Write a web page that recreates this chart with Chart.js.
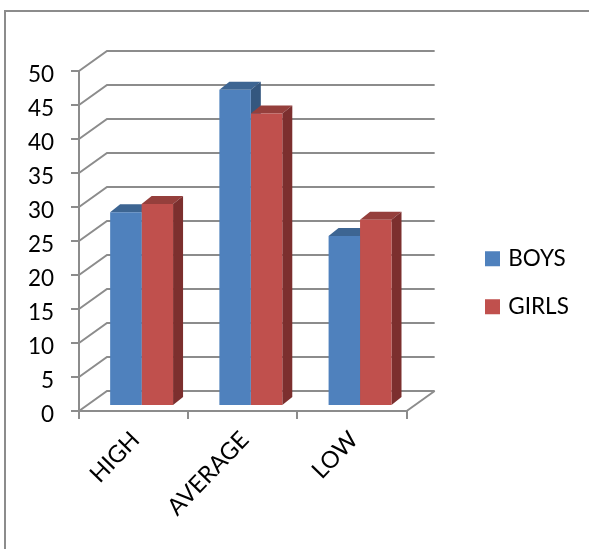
<!DOCTYPE html>
<html>
<head>
<meta charset="utf-8">
<title>Boys and girls by level</title>
<script src="https://cdn.jsdelivr.net/npm/chart.js@4/dist/chart.umd.min.js"></script>
<style>
  html, body { margin: 0; padding: 0; background: #fff; overflow: hidden; }
  #wrap { position: relative; width: 589px; height: 549px; overflow: hidden; }
  #frame { position: absolute; left: 4px; top: 10px; width: 700px; height: 700px; border: 2px solid #8c8c8c; }
  canvas { position: absolute; left: 0; top: 0; }
</style>
</head>
<body>
<div id="wrap">
  <div id="frame"></div>
  <canvas id="chart" width="589" height="549"></canvas>
</div>
<script>
const categories = ["HIGH", "AVERAGE", "LOW"];
const boys = [28.5, 46.5, 25];
const girls = [29.7, 43, 27.4];
const yTicksMax = 50;
const yTicksStep = 5;

const gridColor = "#8c8c8c";
const fontFamily = "Lato, 'Open Sans', sans-serif";
const fontSize = 22.5;

// box depth of the wall/floor, and of the bars themselves
const wall = { dx: 28, dy: 20 };
const barDepth = { dx: 10, dy: 8 };
const barShift = { x: 8, y: -5 };

const shades = {
  BOYS: { top: "#3d6592", side: "#34577f" },
  GIRLS: { top: "#953f3c", side: "#7c2f2e" },
};

// back wall and floor lines, from the y scale's own ticks
const walls = {
  id: "walls",
  beforeDatasetsDraw(chart) {
    const { ctx, scales: { x, y } } = chart;
    ctx.save();
    ctx.strokeStyle = gridColor;
    ctx.lineWidth = 2;
    y.ticks.forEach((t) => {
      const py = y.getPixelForValue(t.value);
      ctx.beginPath();
      ctx.moveTo(x.left, py);
      ctx.lineTo(x.left + wall.dx, py - wall.dy);
      ctx.lineTo(x.right + wall.dx, py - wall.dy);
      ctx.stroke();
    });
    const py0 = y.getPixelForValue(0);
    ctx.beginPath();
    ctx.moveTo(x.right, py0);
    ctx.lineTo(x.right + wall.dx, py0 - wall.dy);
    ctx.stroke();
    ctx.restore();
  },
};

// bars stand a little inside the floor. Chart.js paints the last dataset first,
// so all the top and side faces go down here, before any of the front faces.
const bars3d = {
  id: "bars3d",
  beforeDatasetsDraw(chart) {
    const { ctx } = chart;
    ctx.save();
    ctx.translate(barShift.x, barShift.y);
    chart.data.datasets.forEach((ds, i) => {
      const shade = shades[ds.label];
      chart.getDatasetMeta(i).data.forEach((bar) => {
        const p = bar.getProps(["x", "y", "base", "width"], true);
        const l = p.x - p.width / 2;
        const r = p.x + p.width / 2;
        ctx.fillStyle = shade.top;
        ctx.beginPath();
        ctx.moveTo(l, p.y);
        ctx.lineTo(l + barDepth.dx, p.y - barDepth.dy);
        ctx.lineTo(r + barDepth.dx, p.y - barDepth.dy);
        ctx.lineTo(r, p.y);
        ctx.closePath();
        ctx.fill();
        ctx.fillStyle = shade.side;
        ctx.beginPath();
        ctx.moveTo(r, p.y);
        ctx.lineTo(r + barDepth.dx, p.y - barDepth.dy);
        ctx.lineTo(r + barDepth.dx, p.base - barDepth.dy);
        ctx.lineTo(r, p.base);
        ctx.closePath();
        ctx.fill();
      });
    });
  },
  afterDatasetsDraw(chart) {
    chart.ctx.restore();
  },
};

// the legend sits further right and higher than the default layout puts it
const legendSpot = {
  id: "legendSpot",
  afterLayout(chart) {
    const legend = chart.legend;
    legend.left = 462.5;
    legend.right = 589;
    legend.top = 222;
  },
};

new Chart(document.getElementById("chart"), {
  type: "bar",
  data: {
    labels: categories,
    datasets: [
      { label: "BOYS", data: boys, backgroundColor: "#4f81bd" },
      { label: "GIRLS", data: girls, backgroundColor: "#c0504d" },
    ],
  },
  plugins: [walls, bars3d, legendSpot],
  options: {
    responsive: false,
    animation: false,
    layout: { autoPadding: false, padding: { top: 71, right: 66, left: 0, bottom: 0 } },
    datasets: { bar: { barPercentage: 1, categoryPercentage: 0.576, borderWidth: 0 } },
    scales: {
      x: {
        afterFit: (s) => { s.height = 138; },
        grid: { drawOnChartArea: false, color: gridColor, lineWidth: 2, tickLength: 8 },
        border: { color: gridColor, width: 2 },
        ticks: {
          color: "#000",
          font: { family: fontFamily, size: 23.5 },
          minRotation: 46,
          maxRotation: 46,
          labelOffset: 2,
          padding: 7,
        },
      },
      y: {
        min: 0,
        max: yTicksMax,
        afterFit: (s) => { s.width = 79; },
        grid: { drawOnChartArea: false, color: gridColor, lineWidth: 2, tickLength: 8 },
        border: { color: gridColor, width: 2 },
        ticks: {
          stepSize: yTicksStep,
          color: "#000",
          // an empty first line with a short line height nudges the numbers below their ticks
          callback: (value) => ["", String(value)],
          font: { family: fontFamily, size: fontSize, lineHeight: 0.31 },
          padding: 17,
        },
      },
    },
    plugins: {
      title: { display: false },
      tooltip: { enabled: false },
      legend: {
        position: "right",
        align: "start",
        labels: {
          // a small box with a thick outline keeps the text close to the swatch
          boxWidth: 9,
          boxHeight: 9,
          padding: 25.5,
          color: "#000",
          font: { family: fontFamily, size: fontSize },
          generateLabels: (chart) =>
            Chart.defaults.plugins.legend.labels.generateLabels(chart).map((item) => ({
              ...item,
              lineWidth: 6,
              strokeStyle: item.fillStyle,
            })),
        },
      },
    },
  },
});
</script>
</body>
</html>
